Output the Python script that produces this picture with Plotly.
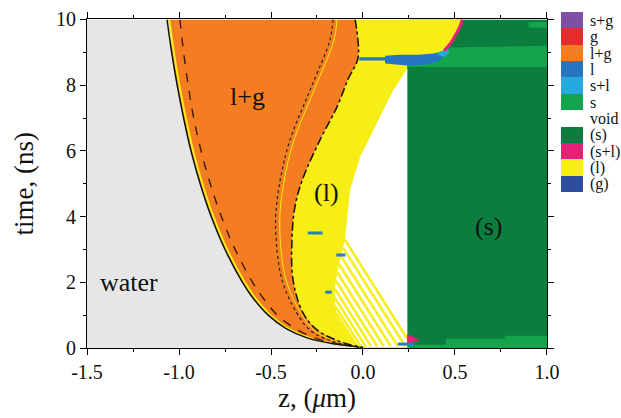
import plotly.graph_objects as go

# ---------------- legend categories ----------------
legend_labels = ["s+g", "g", "l+g", "l", "s+l", "s", "void", "(s)", "(s+l)", "(l)", "(g)"]
legend_colors = ["#7e4fa3", "#e52b2b", "#f47d22", "#2575c2", "#25aadf", "#12a54b",
                 "#ffffff", "#0b7d3e", "#e8207c", "#f6ee15", "#2e4c9e"]

# ---------------- axis ticks ----------------
z_ticks = [-1.5, -1.0, -0.5, 0.0, 0.5, 1.0]
t_ticks = [0, 2, 4, 6, 8, 10]

# ---------------- phase boundaries (time ns, z um) ----------------
water_t = [10, 9, 8, 7, 6, 5, 4, 3, 2, 1.5, 1.0, 0.6, 0.3, 0.12, 0.02]
water_z = [-1.065, -1.04, -1.01, -0.975, -0.935, -0.885, -0.825, -0.75, -0.655,
           -0.595, -0.515, -0.42, -0.30, -0.15, 0.0]

dashed_t = [10, 9, 8, 7, 6, 5, 4, 3, 2, 1.5, 1.0, 0.6, 0.3, 0.12, 0.02]
dashed_z = [-0.995, -0.975, -0.95, -0.92, -0.88, -0.83, -0.77, -0.695, -0.60,
            -0.54, -0.465, -0.37, -0.26, -0.13, 0.0]

dotted_t = [10, 9.37, 7.85, 6.33, 5.11, 3.8, 2.07, 1.07, 0.55, 0.25, 0.1, 0.02]
dotted_z = [-0.163, -0.18, -0.288, -0.397, -0.45, -0.475, -0.44, -0.36, -0.29, -0.19, -0.09, 0.0]

liq_t = [10, 8.83, 8.2, 7.34, 6.33, 5.11, 4.29, 3.29, 2.07, 1.07, 0.55, 0.25, 0.1, 0.02]
liq_z = [-0.043, -0.027, -0.08, -0.141, -0.234, -0.33, -0.37, -0.386, -0.38, -0.326,
         -0.25, -0.15, -0.07, 0.0]

void_t = [8.5, 7.8, 7.03, 6.4, 5.81, 4.81, 3.9, 3.29, 2.8, 2.3, 1.8, 1.3, 0.8, 0.45, 0.15, 0.03, 0.03]
void_z = [0.24, 0.16, 0.092, 0.035, -0.016, -0.07, -0.085, -0.098, -0.12, -0.14, -0.153, -0.153,
          -0.13, -0.09, -0.04, 0.0, 0.24]

front_z = 0.24  # solid front position

mag_t = [10, 9.8, 9.6, 9.4, 9.2, 9.05]
mag_z = [0.54, 0.528, 0.51, 0.49, 0.465, 0.44]

band_top_z = [0.24, 1.0, 1.0, 0.46, 0.44, 0.24]
band_top_t = [8.55, 8.55, 9.2, 9.15, 8.85, 8.6]

band_bot_z = [0.24, 1.0, 1.0, 0.77, 0.77, 0.45, 0.45, 0.24]
band_bot_t = [0.0, 0.0, 0.37, 0.37, 0.28, 0.28, 0.1, 0.1]

patch_z = [0.9, 1.0, 1.0, 0.9]
patch_t = [9.75, 9.75, 9.92, 9.92]

blue_z = [-0.02, 0.12, 0.12, 0.24, 0.35, 0.42, 0.44, 0.40, 0.30, 0.20, 0.12, 0.12, -0.02]
blue_t = [8.75, 8.75, 8.66, 8.6, 8.63, 8.75, 8.95, 8.97, 8.93, 8.93, 8.9, 8.85, 8.85]

cyan_z = [0.40, 0.44, 0.47, 0.46, 0.42]
cyan_t = [8.95, 8.85, 9.0, 9.12, 9.02]

# yellow diagonal stripes inside the void (start upper-left, end lower-right)
stripe_z0 = [-0.098, -0.108, -0.12, -0.13, -0.14, -0.148, -0.153, -0.155, -0.153, -0.145, -0.13]
stripe_t0 = [3.29, 3.05, 2.8, 2.55, 2.3, 2.05, 1.8, 1.55, 1.3, 1.05, 0.8]
stripe_z1 = [0.24, 0.23, 0.19, 0.151, 0.113, 0.077, 0.044, 0.014, -0.012, -0.032, -0.046]
stripe_t1 = [0.29, 0.05, 0.05, 0.05, 0.05, 0.05, 0.05, 0.05, 0.05, 0.05, 0.05]

# small liquid dashes
dash_z0 = [-0.30, -0.145, -0.205, 0.19]
dash_z1 = [-0.22, -0.095, -0.17, 0.28]
dash_t = [3.5, 2.83, 1.7, 0.12]

mag_spot_z = [0.24, 0.31, 0.24]
mag_spot_t = [0.12, 0.25, 0.42]

# region labels
label_text = ["l+g", "(l)", "(s)", "water"]
label_z = [-0.63, -0.196, 0.68, -1.27]
label_t = [7.65, 4.72, 3.71, 1.98]

SERIF = "Liberation Serif, Times New Roman, serif"
GREY = "#e6e6e6"
ORANGE = legend_colors[2]
YELLOW = legend_colors[9]
DKGREEN = legend_colors[7]
LTGREEN = legend_colors[5]
BLUE = legend_colors[3]
CYAN = legend_colors[4]
MAGENTA = legend_colors[8]

fig = go.Figure()


def poly(xs, ys, color, shape="linear"):
    fig.add_trace(go.Scatter(x=xs, y=ys, fill="toself", fillcolor=color, mode="lines",
                             line=dict(width=0, shape=shape, smoothing=1.0, color=color),
                             hoverinfo="skip", showlegend=False))


def line(xs, ys, color, width, dash="solid", shape="spline"):
    fig.add_trace(go.Scatter(x=xs, y=ys, mode="lines",
                             line=dict(color=color, width=width, dash=dash, shape=shape, smoothing=1.0),
                             hoverinfo="skip", showlegend=False))


# solid (s)
poly([front_z, 1.0, 1.0, front_z], [0, 0, 10, 10], DKGREEN)
poly(band_top_z, band_top_t, LTGREEN)
poly(band_bot_z, band_bot_t, LTGREEN)
poly(patch_z, patch_t, LTGREEN)
# (l) region (left part hidden under l+g)
poly([0.0] + dotted_z[::-1] + mag_z + [0.38, front_z, front_z],
     [0.0] + dotted_t[::-1] + mag_t + [8.95, 8.85, 0.0], YELLOW)
# void
poly(void_z, void_t, "#ffffff")
for a, b, c, d in zip(stripe_z0, stripe_t0, stripe_z1, stripe_t1):
    line([a, c], [b, d], YELLOW, 2.5, shape="linear")
# l+g
poly(water_z + liq_z[::-1][1:], water_t + liq_t[::-1][1:], ORANGE, "spline")
# water
poly([-1.5, -1.5] + water_z + [0.0], [0, 10] + water_t + [0], GREY, "spline")
# liquid band
poly(blue_z, blue_t, BLUE)
poly(cyan_z, cyan_t, CYAN)
line(mag_z, mag_t, MAGENTA, 3)
poly(mag_spot_z, mag_spot_t, MAGENTA)
for a, c, t in zip(dash_z0, dash_z1, dash_t):
    line([a, c], [t, t], "#2a7fba", 3, shape="linear")

# boundary lines
line([z + 0.012 for z in water_z], water_t, YELLOW, 2)
line(water_z, water_t, "#111111", 1.5)
line(dashed_z, dashed_t, "#3a1a0a", 1.4, "dash")
line([z + 0.022 for z in dotted_z], dotted_t, YELLOW, 1)
line(dotted_z, dotted_t, "#222222", 1.2, "dot")
line(liq_z, liq_t, "#111111", 1.5, "dashdot")

# legend as categorical colour strip
n = len(legend_labels)
cs = []
for i, c in enumerate(legend_colors):
    cs.append([i / n, c])
    cs.append([(i + 1) / n, c])
fig.add_trace(go.Heatmap(z=[[i] for i in range(n)], x=[0], y=legend_labels,
                         colorscale=cs, zmin=-0.5, zmax=n - 0.5, showscale=False,
                         xaxis="x2", yaxis="y2", hoverinfo="skip"))

for txt, z, t in zip(label_text, label_z, label_t):
    fig.add_annotation(x=z, y=t, text=txt, showarrow=False,
                       font=dict(family=SERIF, size=26, color="#111111"))

axis_common = dict(showline=True, linecolor="black", linewidth=1, mirror="ticks",
                   ticks="outside", ticklen=6, tickcolor="black", showgrid=False,
                   zeroline=False, tickfont=dict(family=SERIF, size=20, color="#111111"),
                   automargin=False)

fig.update_layout(
    width=621, height=418,
    margin=dict(l=87, r=0, t=12, b=70),
    paper_bgcolor="white", plot_bgcolor="white",
    template="none",
    showlegend=False,
    xaxis=dict(domain=[0, 0.8614], range=[-1.5, 1.0], tickvals=z_ticks,
               ticktext=[f"{v:.1f}" for v in z_ticks],
               minor=dict(dtick=0.25, ticks="outside", ticklen=3, tickcolor="black"),
               title=dict(text="z, (<i>μ</i>m)", font=dict(family=SERIF, size=27, color="#111111"),
                          standoff=4),
               **axis_common),
    yaxis=dict(domain=[0, 0.9777], range=[0, 10], tickvals=t_ticks,
               ticktext=[str(v) for v in t_ticks],
               minor=dict(dtick=1, ticks="outside", ticklen=3, tickcolor="black"),
               title=dict(text="time, (ns)", font=dict(family=SERIF, size=27, color="#111111"),
                          standoff=14),
               **axis_common),
    xaxis2=dict(domain=[0.8876, 0.9288], anchor="y2", visible=False, range=[-0.5, 0.5]),
    yaxis2=dict(domain=[0.4643, 1.0], anchor="x2", side="right", type="category",
                autorange="reversed", showgrid=False, zeroline=False, showline=False,
                ticks="", ticklabelstandoff=6, tickmode="array", tickvals=legend_labels,
                ticktext=legend_labels,
                tickfont=dict(family=SERIF, size=16, color="#111111")),
)

fig.write_html("out.html")
